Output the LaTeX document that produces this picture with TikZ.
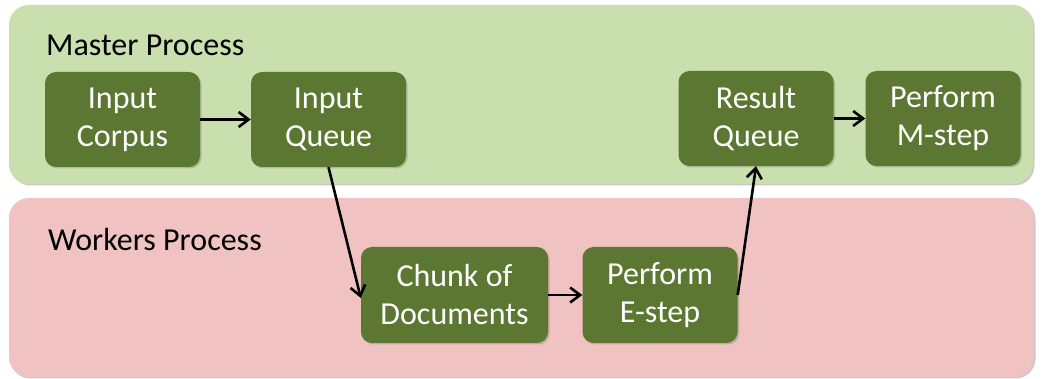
\documentclass[tikz,border=0pt]{standalone}
\usepackage{fontspec}
\setmainfont{Carlito}
\usetikzlibrary{arrows.meta,shadows}
\definecolor{panelgreen}{RGB}{201,223,174}
\definecolor{panelpink}{RGB}{240,194,194}
\definecolor{boxgreen}{RGB}{92,119,50}
\tikzset{
  panel/.style={rounded corners=20pt, draw=none, drop shadow={shadow xshift=1.5pt, shadow yshift=-1.5pt, opacity=0.35, fill=black!60}},
  procbox/.style={rounded corners=11pt, fill=boxgreen, draw=none, text=white,
    minimum width=155pt, minimum height=95pt, align=center, inner sep=0pt,
    font=\fontsize{32}{38}\selectfont,
    drop shadow={shadow xshift=1.5pt, shadow yshift=-1.5pt, opacity=0.3, fill=black!60}},
  title/.style={font=\fontsize{32}{38}\selectfont, anchor=base west, inner sep=0pt},
  flow/.style={line width=2.6pt, -{Straight Barb[length=10pt,width=15pt,line width=2.6pt]}}
}
\begin{document}
\begin{tikzpicture}[x=1pt,y=-1pt]
\useasboundingbox[fill=white] (0,0) rectangle (1042,379);
% panels
\fill[panel, panelgreen] (9,5) rectangle (1033,184);
\fill[panel, panelpink] (9,198) rectangle (1034,377);
\node[title] (master) at (46,56) {Master Process};
\node[title] (workers) at (48,251) {Workers Process};
% boxes
\node[procbox] (corpus) at (122.5,119.5) {Input\\Corpus};
\node[procbox] (iqueue) at (328.5,119.5) {Input\\Queue};
\node[procbox] (rqueue) at (756,118.5) {Result\\Queue};
\node[procbox] (mstep) at (943,118.5) {Perform\\M-step};
\node[procbox, minimum width=187pt, minimum height=96pt] (chunk) at (454.5,295) {Chunk of\\Documents};
\node[procbox, minimum height=96pt] (estep) at (660,295) {Perform\\E-step};
% connectors
\draw[flow] (corpus.east) -- (iqueue.west);
\draw[flow] (iqueue.south) -- ([yshift=-3pt]chunk.west);
\draw[flow] (chunk.east) -- (estep.west);
\draw[flow] (estep.east) -- (rqueue.south);
\draw[flow] (rqueue.east) -- (mstep.west);
\end{tikzpicture}
\end{document}
